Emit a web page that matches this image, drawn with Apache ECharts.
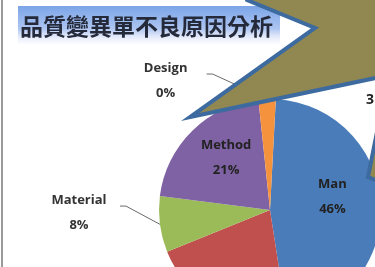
<!DOCTYPE html>
<html>
<head>
<meta charset="utf-8">
<script src="https://cdn.jsdelivr.net/npm/echarts@6/dist/echarts.min.js"></script>
<style>
  html, body { margin: 0; padding: 0; background: #fff; }
  #chart { width: 375px; height: 267px; }
</style>
</head>
<body>
<div id="chart"></div>
<script>
// data
const titleText = '品質變異單不良原因分析'
const causes = ['Man', 'Machine', 'Material', 'Method', 'Design']
const percents = [46, 21, 8, 21, 0.4]
const colors = ['#4a7cba', '#c0504d', '#9bbb59', '#7f62a3', '#f5923e']
const outsideCauses = ['Material', 'Design']
const hiddenLabels = ['Machine'] // sits below the cropped edge
const sideNote = '3'

const cx = 270, cy = 210, r = 111

const chart = echarts.init(document.getElementById('chart'))

function labelLineFor(name) {
  if (name === 'Design') return { show: true, length: 18, length2: 60 }
  if (name === 'Material') return { show: true, length: 6, length2: 34 }
  return { show: false }
}

function labelFor(name) {
  if (hiddenLabels.includes(name)) return { show: false }
  if (outsideCauses.includes(name)) return { position: 'outside', color: '#333' }
  return {}
}

const option = {
  animation: false,
  backgroundColor: '#ffffff',
  color: colors,
  graphic: [
    // slide edge on the left
    { type: 'line', shape: { x1: 2, y1: 0, x2: 2, y2: 267 }, style: { stroke: '#9a9a9a', lineWidth: 2 }, z: 1 },
    // title band
    {
      type: 'rect', shape: { x: 18, y: 6, width: 262, height: 38 }, z: 1,
      style: {
        fill: new echarts.graphic.LinearGradient(0, 0, 0, 1, [
          { offset: 0, color: '#7ba5e8' },
          { offset: 0.6, color: '#adc5f1' },
          { offset: 1, color: 'rgba(236,236,252,0.2)' }
        ])
      }
    },
    {
      type: 'text', z: 2,
      style: {
        text: titleText, x: 20, y: 26, fill: '#242a3a',
        font: 'bold 23px "Noto Sans CJK TC"', verticalAlign: 'middle',
        shadowBlur: 1, shadowColor: 'rgba(0,0,40,0.3)'
      }
    },
    {
      type: 'text', z: 2,
      style: { text: sideNote, x: 366, y: 100, fill: '#222', font: 'bold 14px "Open Sans"', verticalAlign: 'middle' }
    },
    // callout shape over the chart
    {
      type: 'polygon', z: 100,
      shape: {
        points: [[240, -20], [247, 0], [315, 28], [190, 117], [390, 75], [400, 120],
                 [377, 132], [368, 177], [400, 190], [420, -20]]
      },
      style: { fill: '#918851', stroke: '#3d6a9f', lineWidth: 4, lineJoin: 'miter' }
    }
  ],
  series: [{
    type: 'pie',
    center: [cx, cy],
    radius: r,
    startAngle: 87,
    minAngle: 9,
    label: {
      position: 'inside',
      formatter: p => '{t|' + p.name + '}\n{t|' + Math.round(p.value) + '%}',
      rich: {
        t: {
          fontFamily: 'Open Sans', fontWeight: 'bold', fontSize: 13,
          lineHeight: 25, width: 72, align: 'center'
        }
      },
      color: '#222'
    },
    labelLine: { lineStyle: { color: '#6b6b6b', width: 1 } },
    labelLayout: function (params) {
      const lr = params.labelRect
      const lx = lr.x + lr.width / 2, ly = lr.y + lr.height / 2
      const d = Math.hypot(lx - cx, ly - cy)
      if (d < r) return { dx: lx > cx ? 4 : -3, dy: -10 }
      const pts = params.labelLinePoints
      if (!pts) return {}
      const p0 = pts[0], p2 = pts[pts.length - 1]
      // leader meets the label at its first line, as on the slide
      const lift = lx < 150 ? 12 : 0
      const ay = p2[1] - lift - 7
      return {
        dy: -lift,
        labelLinePoints: [p0, [p2[0] + 6, ay], [p2[0], ay]]
      }
    },
    data: causes.map((name, i) => ({
      name: name,
      value: percents[i],
      label: labelFor(name),
      labelLine: labelLineFor(name)
    }))
  }]
}

chart.setOption(option)
</script>
</body>
</html>
